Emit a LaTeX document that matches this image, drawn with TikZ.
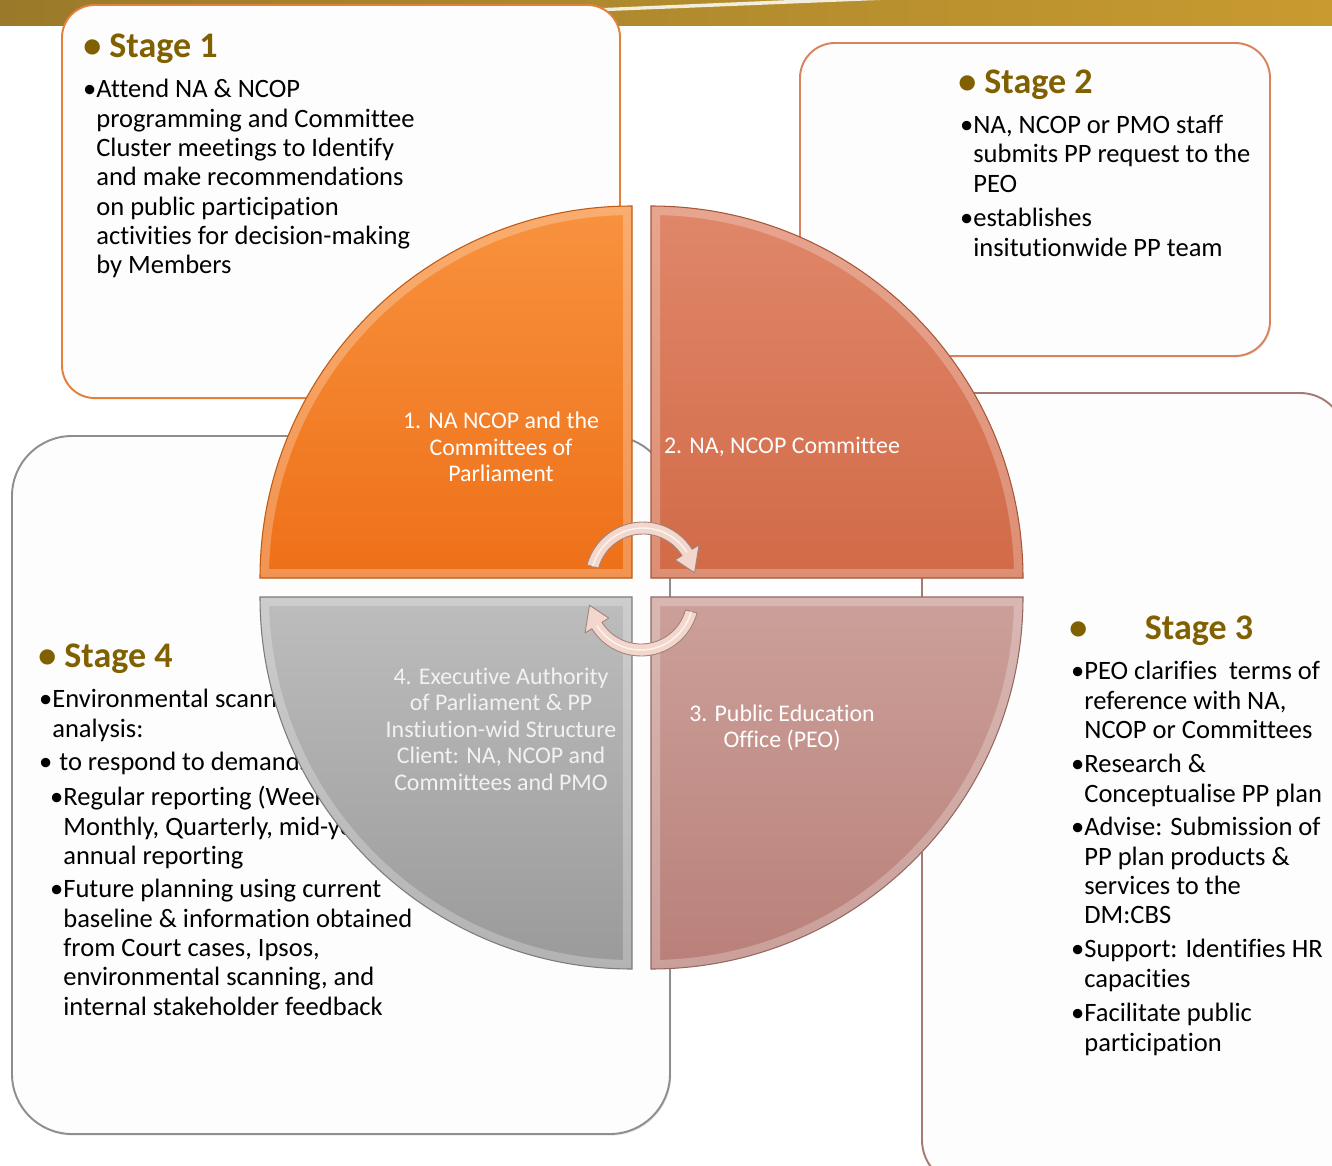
\documentclass[tikz,border=0pt]{standalone}
\usepackage{fontspec}
\setmainfont{Carlito}[Ligatures=NoCommon]
\usepackage{tikz}
\usetikzlibrary{positioning}
\usetikzlibrary{calc}
\usetikzlibrary{shadows}

\definecolor{stagegold}{HTML}{806000}
\definecolor{bandleft}{HTML}{9A7A2A}
\definecolor{bandright}{HTML}{C89B30}
\definecolor{boxfill}{HTML}{FDFDFD}
\definecolor{box1line}{HTML}{E5803A}
\definecolor{box2line}{HTML}{D9835E}
\definecolor{box3line}{HTML}{A67A74}
\definecolor{box4line}{HTML}{8E8E8E}
\definecolor{q1top}{HTML}{F8923F}
\definecolor{q1bot}{HTML}{EE7018}
\definecolor{q2top}{HTML}{E0876A}
\definecolor{q2bot}{HTML}{D16A47}
\definecolor{q3top}{HTML}{CCA09A}
\definecolor{q3bot}{HTML}{B98079}
\definecolor{q4top}{HTML}{BDBDBD}
\definecolor{q4bot}{HTML}{9A9A9A}
\definecolor{arrowfill}{HTML}{F3D7CD}
\definecolor{arrowline}{HTML}{A0837B}
\definecolor{quadgray}{HTML}{F2F2F2}

\newcommand{\itembul}{\llap{\textbullet}}

\begin{document}
\begin{tikzpicture}[x=0.02cm, y=0.02cm,
    stagebox/.style={rounded corners=#1, fill=boxfill, line width=1.1pt,
      drop shadow={opacity=.18, shadow xshift=.7pt, shadow yshift=-.9pt}},
    head/.style={font=\fontsize{20.5}{24}\selectfont\bfseries, text=stagegold, inner sep=0pt, anchor=west},
    body/.style={font=\fontsize{15.1}{16.7}\selectfont, align=left, inner sep=0pt, anchor=north west},
    quadtxt/.style={font=\fontsize{13.6}{15.1}\selectfont, align=center, text=white, inner sep=0pt},
    cyclearrow/.style={fill=arrowfill, draw=arrowline, line width=.5pt, line join=round}]

  \useasboundingbox (0,0) rectangle (1332,-1166);

  % gold band along the top
  \shade[left color=bandleft, right color=bandright] (0,0) rectangle (1332,-26);
  \fill[white, opacity=.85] (150,-26) .. controls (420,-20) and (650,-9) .. (880,0)
    -- (790,0) .. controls (600,-8) and (400,-17) .. (150,-26) -- cycle;

  % the four stage boxes
  \draw[stagebox=0.65cm, draw=box1line] (62,-5) rectangle (620,-398);
  \draw[stagebox=0.7cm, draw=box2line] (800,-43) rectangle (1270,-356);
  \draw[stagebox=1.2cm, draw=box4line] (12,-436) rectangle (670,-1134);
  \draw[stagebox=0.9cm, draw=box3line] (922,-393) rectangle (1345,-1185);

  % stage 1
  \node[head] (s1h) at (83,-49) {\textbullet\ Stage 1};
  \node[body] (s1a) at (96,-79) {\itembul Attend NA \& NCOP\\programming and Committee\\Cluster meetings to Identify\\and make recommendations\\on public participation\\activities for decision-making\\by Members};

  % stage 2
  \node[head] (s2h) at (958,-85) {\textbullet\ Stage 2};
  \node[body] (s2a) at (973,-115) {\itembul NA, NCOP or PMO staff\\submits PP request to the\\PEO};
  \node[body] (s2b) at (973,-208) {\itembul establishes\\insitutionwide PP team};

  % stage 3
  \node[head] (s3h) at (1069,-631) {\makebox[43pt][l]{\textbullet}Stage 3};
  \node[body] (s3a) at (1084,-661) {\itembul PEO clarifies\ \ terms of\\reference with NA,\\NCOP or Committees};
  \node[body] (s3b) at (1084,-754) {\itembul Research \&\\Conceptualise PP plan};
  \node[body] (s3c) at (1084,-817) {\itembul Advise: Submission of\\PP plan products \&\\services to the\\DM:CBS};
  \node[body] (s3d) at (1084,-939) {\itembul Support: Identifies HR\\capacities};
  \node[body] (s3e) at (1084,-1003) {\itembul Facilitate public\\participation};

  % stage 4
  \node[head] (s4h) at (38,-659) {\textbullet\ Stage 4};
  \node[body] (s4a) at (52,-689) {\itembul Environmental scanning and\\analysis:};
  \node[body] (s4b) at (52,-752) {\itembul\hspace*{4pt}to respond to demands};
  \node[body] (s4c) at (63,-786) {\itembul Regular reporting (Weekly,\\Monthly, Quarterly, mid-year and\\annual reporting};
  \node[body] (s4d) at (63,-879) {\itembul Future planning using current\\baseline \& information obtained\\from Court cases, Ipsos,\\environmental scanning, and\\internal stakeholder feedback};

  % bevelled quarter discs
  \foreach \cx/\cy/\s/\ct/\cb in {632/-578/180/q1top/q1bot, 651/-578/90/q2top/q2bot,
                                  651/-597/0/q3top/q3bot, 632/-597/270/q4top/q4bot}{
    \shade[top color=\ct, bottom color=\cb]
      (\cx,\cy) -- ++(\s:372) arc[start angle=\s, delta angle=-90, radius=372] -- cycle;
    \begin{scope}
      \clip (\cx,\cy) -- ++(\s:372) arc[start angle=\s, delta angle=-90, radius=372] -- cycle;
      \draw[white, opacity=.25, line width=0.36cm]
        (\cx,\cy) -- ++(\s:372) arc[start angle=\s, delta angle=-90, radius=372] -- cycle;
    \end{scope}
    \draw[\cb!80!black, line width=.6pt]
      (\cx,\cy) -- ++(\s:372) arc[start angle=\s, delta angle=-90, radius=372] -- cycle;
  }

  \node[quadtxt] (q1) at (501,-447) {1. NA NCOP and the\\Committees of\\Parliament};
  \node[quadtxt] (q2) at (782,-447) {2. NA, NCOP Committee};
  \node[quadtxt] (q3) at (782,-728) {3. Public Education\\Office (PEO)};
  \node[quadtxt, text=quadgray] (q4) at (501,-729) {4. Executive Authority\\of Parliament \& PP\\Instiution-wid Structure\\Client: NA, NCOP and\\Committees and PMO};

  % cycle arrows in the middle
  \coordinate (cyc1) at (643,-580);
  \coordinate (cyc2) at (641,-598);
  \foreach \c/\s in {cyc1/165, cyc2/-15}{
    \pgfmathsetmacro\basea{\s-133}
    \pgfmathsetmacro\tipa{\s-157}
    \filldraw[cyclearrow] ($(\c)+(\s:46)$) -- ($(\c)+(\s:58)$)
      arc[start angle=\s, end angle=\basea, radius=58]
      -- ($(\c)+(\basea:66)$) -- ($(\c)+(\tipa:52)$) -- ($(\c)+(\basea:38)$)
      -- ($(\c)+(\basea:46)$) arc[start angle=\basea, end angle=\s, radius=46] -- cycle;
    \draw[white, opacity=.7, line width=.8pt] ($(\c)+(\s:52)$) arc[start angle=\s, end angle=\basea, radius=52];
  }
\end{tikzpicture}
\end{document}
